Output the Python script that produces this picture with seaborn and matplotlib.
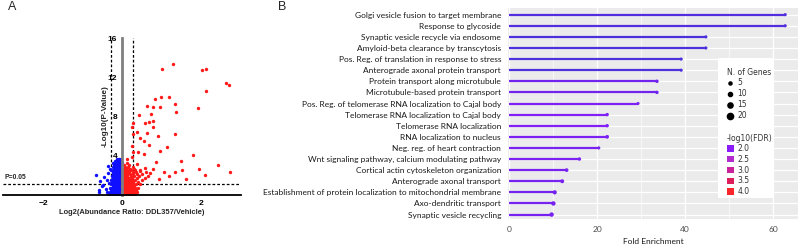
import numpy as np
import pandas as pd
import matplotlib
matplotlib.use('Agg')
import matplotlib.pyplot as plt
import seaborn as sns
from matplotlib.colors import LinearSegmentedColormap, Normalize
from matplotlib.lines import Line2D
from matplotlib.patches import Patch, Rectangle

# ---------------- panel A: volcano plot data ----------------
# dense blue cluster, one list of x values per y level
blue_rows = {
    0.1: [-0.02, -0.06, -0.10, -0.14, -0.18, -0.22, -0.27, -0.33],
    0.3: [-0.01, -0.04, -0.08, -0.12, -0.16, -0.20, -0.25, -0.30],
    0.5: [-0.03, -0.07, -0.11, -0.15, -0.19, -0.23, -0.28],
    0.7: [-0.02, -0.05, -0.09, -0.13, -0.17, -0.21, -0.26, -0.31],
    0.9: [-0.01, -0.04, -0.08, -0.12, -0.16, -0.20, -0.24],
    1.1: [-0.03, -0.06, -0.10, -0.14, -0.18, -0.22, -0.27],
    1.3: [-0.02, -0.05, -0.09, -0.13, -0.17, -0.21, -0.25],
    1.5: [-0.01, -0.04, -0.08, -0.12, -0.16, -0.20, -0.24, -0.29],
    1.7: [-0.03, -0.07, -0.11, -0.15, -0.19, -0.23],
    1.9: [-0.02, -0.05, -0.09, -0.13, -0.17, -0.21, -0.26],
    2.1: [-0.01, -0.04, -0.08, -0.12, -0.16, -0.20, -0.24],
    2.3: [-0.03, -0.06, -0.10, -0.14, -0.18, -0.22],
    2.5: [-0.02, -0.05, -0.09, -0.13, -0.17, -0.21, -0.27],
    2.7: [-0.01, -0.04, -0.08, -0.12, -0.16, -0.20],
    2.9: [-0.03, -0.07, -0.11, -0.15, -0.19, -0.24],
    3.1: [-0.02, -0.05, -0.09, -0.13, -0.17, -0.21],
    3.3: [-0.01, -0.04, -0.08, -0.12, -0.16, -0.22],
    3.5: [-0.03, -0.06, -0.10, -0.14, -0.19],
    3.7: [-0.02, -0.07, -0.13],
}
blue_out_x = [-0.65, -0.56, -0.59, -0.58, -0.48, -0.39, -0.35, -0.31, -0.42, -0.37, -0.45, -0.52, -0.33, -0.36]
blue_out_y = [2.0, 1.4, 0.5, 0.35, 1.05, 1.55, 2.2, 2.6, 0.6, 0.3, 1.8, 0.9, 1.2, 3.0]

# dense red cluster
red_rows = {
    0.1: [0.02, 0.06, 0.10, 0.14, 0.18, 0.22, 0.27, 0.33],
    0.3: [0.01, 0.04, 0.08, 0.12, 0.16, 0.20, 0.25, 0.31, 0.38],
    0.5: [0.03, 0.07, 0.11, 0.15, 0.19, 0.23, 0.28, 0.35],
    0.7: [0.02, 0.05, 0.09, 0.13, 0.17, 0.21, 0.26, 0.32, 0.41],
    0.9: [0.01, 0.04, 0.08, 0.12, 0.16, 0.20, 0.24, 0.30],
    1.1: [0.03, 0.06, 0.10, 0.14, 0.18, 0.22, 0.27, 0.36, 0.45],
    1.3: [0.02, 0.05, 0.09, 0.13, 0.17, 0.21, 0.29, 0.40],
    1.5: [0.01, 0.04, 0.08, 0.12, 0.16, 0.20, 0.26, 0.33, 0.50],
    1.7: [0.03, 0.07, 0.11, 0.15, 0.19, 0.25, 0.37, 0.58],
    1.9: [0.02, 0.05, 0.09, 0.14, 0.22, 0.31, 0.44, 0.66],
    2.1: [0.04, 0.08, 0.13, 0.20, 0.28, 0.39, 0.52],
    2.3: [0.03, 0.07, 0.12, 0.18, 0.27, 0.36, 0.62],
    2.5: [0.05, 0.10, 0.17, 0.24, 0.34, 0.47],
    2.7: [0.04, 0.11, 0.21, 0.30],
    2.9: [0.08, 0.16, 0.27],
    3.1: [0.06, 0.19],
    3.3: [0.12],
}
red_out_x = [1.30, 1.03, 2.04, 2.15, 2.65, 2.73, 2.13, 1.00, 1.20, 0.85, 1.34, 0.64, 0.80, 1.93,
             1.38, 0.97, 0.74, 0.44, 0.29, 0.59, 0.68, 0.80, 0.79, 0.25, 0.37, 0.29, 0.63, 0.91,
             1.35, 0.46, 0.55, 0.68, 1.15, 0.25, 0.97, 0.55, 0.42, 1.80, 1.49, 0.87, 2.44, 1.97,
             2.12, 2.74, 1.53, 1.36, 1.06, 1.19, 1.62, 0.95, 0.80, 0.72, 0.59, 0.46, 0.38, 0.25,
             0.29, 0.12]
red_out_y = [13.4, 12.8, 12.7, 12.8, 11.4, 11.2, 10.6, 10.0, 10.0, 9.8, 9.3, 9.1, 9.0, 8.9,
             8.5, 9.0, 8.3, 8.2, 7.3, 7.3, 7.4, 7.5, 6.9, 6.9, 6.4, 6.2, 6.3, 6.0,
             6.2, 5.8, 5.5, 5.1, 4.9, 5.0, 4.5, 4.2, 4.4, 4.1, 3.5, 3.4, 3.1, 2.7,
             2.0, 2.3, 2.5, 2.3, 2.3, 1.9, 1.6, 1.6, 2.6, 2.2, 2.8, 2.4, 3.2, 3.9,
             4.4, 3.7]

p_line = 1.1
fc_cut_left, fc_cut_right = -0.28, 0.27

# ---------------- panel B: GO enrichment data ----------------
terms = [
    'Golgi vesicle fusion to target membrane',
    'Response to glycoside',
    'Synaptic vesicle recycle via endosome',
    'Amyloid-beta clearance by transcytosis',
    'Pos. Reg. of translation in response to stress',
    'Anterograde axonal protein transport',
    'Protein transport along microtubule',
    'Microtubule-based protein transport',
    'Pos. Reg. of telomerase RNA localization to Cajal body',
    'Telomerase RNA localization to Cajal body',
    'Telomerase RNA localization',
    'RNA localization to nucleus',
    'Neg. reg. of heart contraction',
    'Wnt signaling pathway, calcium modulating pathway',
    'Cortical actin cytoskeleton organization',
    'Anterograde axonal transport',
    'Establishment of protein localization to mitochondrial membrane',
    'Axo-dendritic transport',
    'Synaptic vesicle recycling',
]
fold_enrichment = [62.7, 62.7, 44.7, 44.7, 39.1, 39.1, 33.6, 33.6, 29.3, 22.3,
                   22.3, 22.3, 20.4, 16.0, 13.1, 12.1, 10.4, 10.1, 9.7]
n_genes = [5, 5, 5, 5, 5, 5, 6, 6, 5, 6, 6, 7, 5, 6, 7, 8, 9, 10, 10]
neg_log_fdr = [1.3, 1.3, 1.2, 1.2, 1.25, 1.25, 1.7, 1.7, 1.85, 1.9,
               1.9, 1.8, 1.75, 1.8, 1.75, 1.75, 1.7, 1.75, 1.75]

gene_levels = [5, 10, 15, 20]
fdr_levels = [2.0, 2.5, 3.0, 3.5, 4.0]

# colour scale for -log10(FDR)
cmap_stops = [1.0, 2.0, 2.5, 3.0, 3.5, 4.0]
cmap_cols = ['#3a36d4', '#8b1cfa', '#b02cd0', '#c8239a', '#dc1f5c', '#f8262a']
fdr_cmap = LinearSegmentedColormap.from_list(
    'fdr', [((v - 1.0) / 3.0, c) for v, c in zip(cmap_stops, cmap_cols)])
fdr_norm = Normalize(1.0, 4.0)

def gene_area(n):
    # marker area (pt^2) for a number of genes
    return (1.5 + 0.15 * n) ** 2

# ---------------- figure ----------------
sns.set_style('white')
plt.rcParams['font.family'] = ['Liberation Sans', 'DejaVu Sans']

fig = plt.figure(figsize=(8.0, 2.46), dpi=100)

# ---- A ----
ax = fig.add_axes([3 / 800, 51 / 246, 238 / 800, 157 / 246])
bx = [x for y, xs in blue_rows.items() for x in xs] + blue_out_x
by = [y for y, xs in blue_rows.items() for x in xs] + blue_out_y
rx = [x for y, xs in red_rows.items() for x in xs] + red_out_x
ry = [y for y, xs in red_rows.items() for x in xs] + red_out_y

dash = dict(color='black', lw=0.9, ls=(0, (2.2, 1.6)), zorder=1)
ax.axhline(p_line, **dash)
ax.plot([fc_cut_left, fc_cut_left], [0, 16], **dash)
ax.plot([fc_cut_right, fc_cut_right], [0, 16], **dash)

sns.scatterplot(x=bx, y=by, color='#1010ff', s=6, linewidth=0, ax=ax, zorder=2)
sns.scatterplot(x=rx, y=ry, color='#ff1a1a', s=6, linewidth=0, ax=ax, zorder=2)

ax.set_xlim(-3.03, 3.03)
ax.set_ylim(0, 16)
ax.spines['left'].set_position(('data', 0))
ax.spines['left'].set_color('#7f7f7f')
ax.spines['left'].set_linewidth(2.0)
ax.spines['bottom'].set_linewidth(1.3)
ax.spines['bottom'].set_color('black')
for s in ['top', 'right']:
    ax.spines[s].set_visible(False)
ax.set_xticks([-2, 0, 2])
ax.set_yticks([4, 8, 12, 16])
ax.tick_params(axis='both', labelsize=6, length=2, width=0.8, pad=1.5, colors='black')
for lab in ax.get_xticklabels() + ax.get_yticklabels():
    lab.set_fontweight('bold')
ax.set_xlabel('Log2(Abundance Ratio: DDL357/Vehicle)', fontsize=5.4, fontweight='bold')
ax.xaxis.set_label_coords(0.542, -0.09)
ax.set_ylabel('-Log10(P-Value)', fontsize=5.9, fontweight='bold')
ax.yaxis.set_label_coords(0.445, 0.5)
ax.text(-3.0, 1.45, 'P=0.05', fontsize=4.9, fontweight='bold', ha='left', va='bottom')
ax.patch.set_alpha(0)

# ---- B ----
ax2 = fig.add_axes([508 / 800, 27 / 246, 290 / 800, 211 / 246])
ax2.set_facecolor('#ebebeb')
go = pd.DataFrame({'term': terms, 'fold': fold_enrichment, 'genes': n_genes, 'fdr': neg_log_fdr})

ax2.hlines(go['term'], 0, go['fold'], colors=[fdr_cmap(fdr_norm(v)) for v in go['fdr']],
           lw=1.6, zorder=2)
sns.scatterplot(data=go, x='fold', y='term', size='genes', hue='fdr', palette=fdr_cmap,
                hue_norm=fdr_norm, sizes=(gene_area(5), gene_area(20)), size_norm=(5, 20),
                linewidth=0, legend=False, ax=ax2, zorder=3)

ax2.set_xlim(-0.2, 65.6)
ax2.set_ylim(len(terms) - 0.6, -0.6)
ax2.set_xticks([0, 20, 40, 60])
ax2.set_xticks([10, 30, 50], minor=True)
ax2.grid(True, which='major', color='white', lw=0.9)
ax2.grid(True, which='minor', axis='x', color='white', lw=0.45)
ax2.set_axisbelow(True)
for s in ax2.spines.values():
    s.set_visible(False)
ax2.tick_params(axis='both', which='major', length=2, width=0.6, color='#333333')
ax2.tick_params(axis='x', which='minor', length=0)
ax2.tick_params(axis='y', labelsize=6.0, pad=3, labelcolor='#1a1a1a')
ax2.tick_params(axis='x', labelsize=6.0, pad=3, labelcolor='#4d4d4d')
for lab in ax2.get_yticklabels() + ax2.get_xticklabels():
    lab.set_fontfamily('Lato')
ax2.set_xlabel('Fold Enrichment', fontsize=6.0, family='Lato', color='#1a1a1a', labelpad=3.5)
ax2.set_ylabel('')

# legend box
fig.patches.append(Rectangle((718 / 800, 1 - 198 / 246), 55 / 800, 140 / 246,
                             transform=fig.transFigure, facecolor='white', edgecolor='none', zorder=5))
gene_handles = [Line2D([], [], marker='o', ls='', color='black', markersize=np.sqrt(gene_area(n)))
                for n in gene_levels]
leg1 = fig.legend(gene_handles, [str(n) for n in gene_levels], title='N. of Genes',
                  loc='upper left', bbox_to_anchor=(722 / 800, 1 - 63 / 246), frameon=False,
                  title_fontsize=5.5, handlelength=1.0, handletextpad=0.4,
                  labelspacing=0.25, alignment='left', borderpad=0.1,
                  prop={'family': 'DejaVu Sans', 'size': 5.5})
leg1.set_zorder(6)
fdr_handles = [Patch(facecolor=fdr_cmap(fdr_norm(v)), edgecolor='none') for v in fdr_levels]
leg2 = fig.legend(fdr_handles, ['%.1f' % v for v in fdr_levels], title='-log10(FDR)',
                  loc='upper left', bbox_to_anchor=(722 / 800, 1 - 129 / 246), frameon=False,
                  title_fontsize=5.5, handlelength=1.0, handleheight=0.9,
                  handletextpad=0.4, labelspacing=0.22, alignment='left', borderpad=0.1,
                  prop={'family': 'DejaVu Sans', 'size': 5.5})
leg2.set_zorder(6)
for lg in (leg1, leg2):
    lg.get_title().set_family('DejaVu Sans')
    lg.get_title().set_color('#333333')
    for t in lg.get_texts():
        t.set_color('#333333')

fig.text(8 / 800, 1 - 7 / 246, 'A', fontsize=9, va='center', ha='left', family='Liberation Sans')
fig.text(278 / 800, 1 - 7 / 246, 'B', fontsize=9, va='center', ha='left', family='Liberation Sans')

fig.savefig('out.png', dpi=100)
